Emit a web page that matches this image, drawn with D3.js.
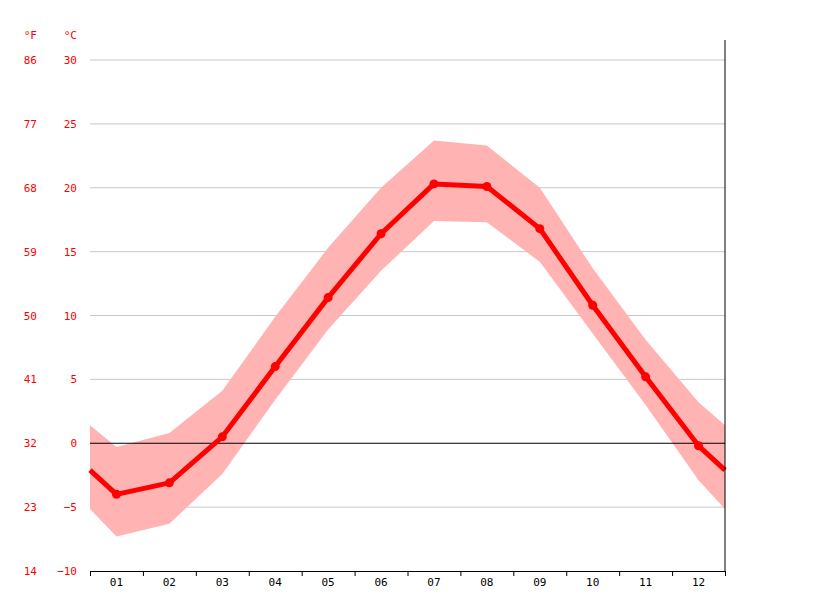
<!DOCTYPE html>
<html><head><meta charset="utf-8">
<script src="https://cdn.jsdelivr.net/npm/d3@7"></script>
<style>body{margin:0;background:#fff}</style></head>
<body><svg id="c" width="815" height="611"></svg>
<script>
const months=["01","02","03","04","05","06","07","08","09","10","11","12"];
const meanT=[-4.0,-3.1,0.5,6.0,11.4,16.4,20.3,20.1,16.8,10.8,5.2,-0.2];
const highT=[-0.3,0.8,4.1,9.9,15.3,20.0,23.7,23.3,20.0,13.7,8.1,3.2];
const lowT=[-7.3,-6.3,-2.4,3.4,8.9,13.5,17.4,17.3,14.2,8.6,3.0,-2.9];
const edgeMean=-2.1, edgeHigh=1.4, edgeLow=-5.15;
const cTicks=[-10,-5,0,5,10,15,20,25,30];
const fTicks=[14,23,32,41,50,59,68,77,86];

const svg=d3.select("#c");
const x=d3.scaleLinear().domain([0.5,12.5]).range([90,725]);
const y=d3.scaleLinear().domain([-10,30]).range([571,60]);
const font="'DejaVu Sans Mono', monospace";

svg.append("g").selectAll("line").data(cTicks.filter(d=>d!==0&&d!==-10)).join("line")
 .attr("x1",90).attr("x2",725).attr("y1",d=>y(d)).attr("y2",d=>y(d)).attr("stroke","#c8c8c8");

const pts=i=>i;
const xs=[0.5,...months.map((m,i)=>i+1),12.5];
const hi=[edgeHigh,...highT,edgeHigh], lo=[edgeLow,...lowT,edgeLow], mn=[edgeMean,...meanT,edgeMean];
svg.append("path").datum(xs.map((v,i)=>i))
 .attr("d",d3.area().x(i=>x(xs[i])).y0(i=>y(lo[i])).y1(i=>y(hi[i])))
 .attr("fill","#ffb3b3");

svg.append("line").attr("x1",90).attr("x2",725).attr("y1",y(0)).attr("y2",y(0)).attr("stroke","#000");

svg.append("path").datum(xs.map((v,i)=>i))
 .attr("d",d3.line().x(i=>x(xs[i])).y(i=>y(mn[i])))
 .attr("fill","none").attr("stroke","#ff0000").attr("stroke-width",5).attr("stroke-linejoin","round");
svg.append("g").selectAll("circle").data(meanT).join("circle")
 .attr("cx",(d,i)=>x(i+1)).attr("cy",d=>y(d)).attr("r",4.5).attr("fill","#ff0000");

// axes
svg.append("line").attr("x1",725).attr("x2",725).attr("y1",40).attr("y2",571).attr("stroke","#000");
const xa=svg.append("g").attr("transform","translate(0,571)")
 .call(d3.axisBottom(x).tickValues(d3.range(0.5,12.6,1)).tickSize(5).tickFormat(""));
xa.select(".domain").attr("stroke","#000");
svg.append("g").selectAll("text").data(months).join("text")
 .attr("x",(d,i)=>x(i+1)).attr("y",586).attr("text-anchor","middle")
 .attr("font-family",font).attr("font-size",11).attr("fill","#000").text(d=>d);

svg.append("g").selectAll("text").data(cTicks).join("text")
 .attr("x",77).attr("y",d=>y(d)+4).attr("text-anchor","end")
 .attr("font-family",font).attr("font-size",11).attr("fill","#ff0000").text(d=>d<0?"−"+(-d):d);
svg.append("g").selectAll("text").data(fTicks).join("text")
 .attr("x",37).attr("y",(d,i)=>y(cTicks[i])+4).attr("text-anchor","end")
 .attr("font-family",font).attr("font-size",11).attr("fill","#ff0000").text(d=>d);
svg.append("text").attr("x",37).attr("y",39).attr("text-anchor","end").attr("font-family",font)
 .attr("font-size",11).attr("fill","#ff0000").text("°F");
svg.append("text").attr("x",77).attr("y",39).attr("text-anchor","end").attr("font-family",font)
 .attr("font-size",11).attr("fill","#ff0000").text("°C");
</script></body></html>
